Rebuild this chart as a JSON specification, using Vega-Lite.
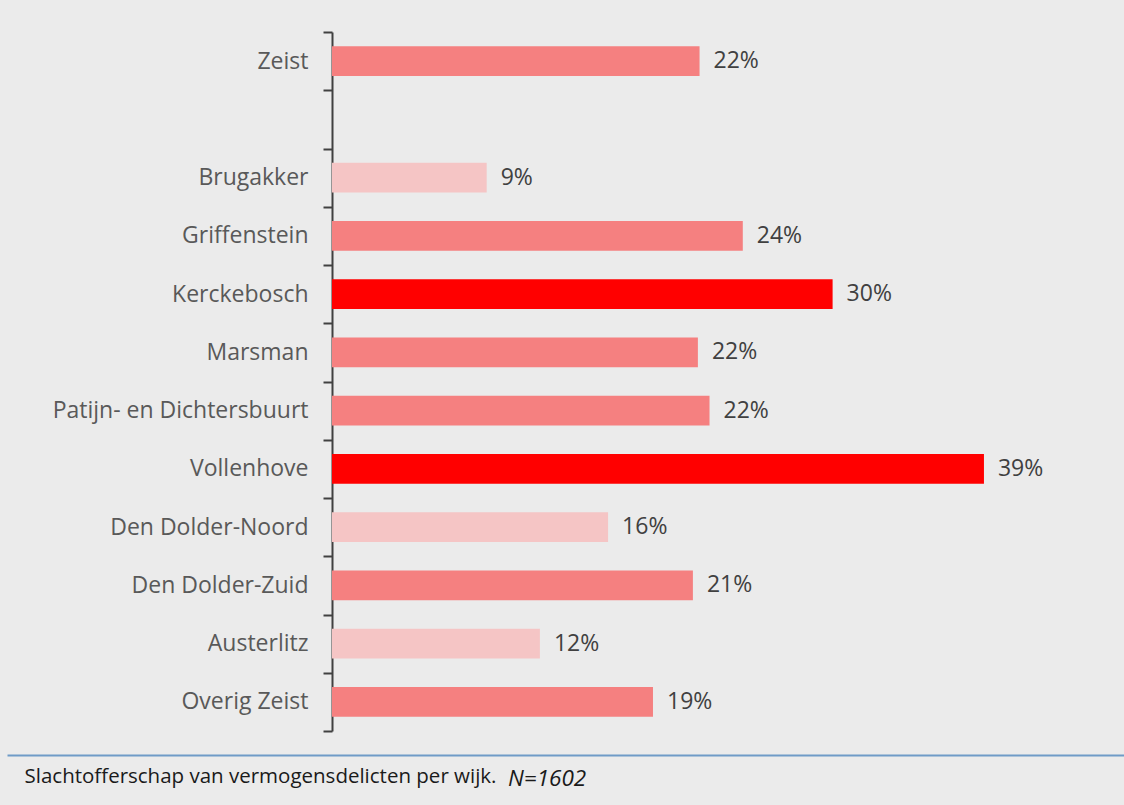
{
  "$schema": "https://vega.github.io/schema/vega-lite/v6.json",
  "autosize": {"type": "none"},
  "width": 1117,
  "height": 699,
  "padding": {"left": 7, "top": 32, "right": 0, "bottom": 74},
  "background": "#ebebeb",
  "config": {"view": {"stroke": null}, "font": "Open Sans"},
  "title": {
    "text": "N=1602",
    "orient": "bottom",
    "anchor": "start",
    "frame": "group",
    "font": "Open Sans",
    "fontStyle": "italic",
    "fontWeight": "normal",
    "fontSize": 22.5,
    "color": "#1a1a1a",
    "dx": 501,
    "offset": 0,
    "dy": -19
  },
  "data": {
    "values": [
      {"wijk": "Zeist", "waarde": 22.1, "label": "22%", "groep": "midden"},
      {"wijk": "Brugakker", "waarde": 9.3, "label": "9%", "groep": "laag"},
      {"wijk": "Griffenstein\u2005", "waarde": 24.7, "label": "24%", "groep": "midden"},
      {"wijk": "Kerckebosch", "waarde": 30.1, "label": "30%", "groep": "hoog"},
      {"wijk": "Marsman", "waarde": 22.0, "label": "22%", "groep": "midden"},
      {"wijk": "Patijn- en Dichtersbuurt", "waarde": 22.7, "label": "22%", "groep": "midden"},
      {"wijk": "Vollenhove", "waarde": 39.2, "label": "39%", "groep": "hoog"},
      {"wijk": "Den Dolder-Noord", "waarde": 16.6, "label": "16%", "groep": "laag"},
      {"wijk": "Den Dolder-Zuid", "waarde": 21.7, "label": "21%", "groep": "midden"},
      {"wijk": "Austerlitz", "waarde": 12.5, "label": "12%", "groep": "laag"},
      {"wijk": "Overig Zeist", "waarde": 19.3, "label": "19%", "groep": "midden"}
    ]
  },
  "encoding": {
    "y": {
      "field": "wijk",
      "type": "nominal",
      "sort": null,
      "scale": {
        "domain": ["Zeist", " ", "Brugakker", "Griffenstein\u2005", "Kerckebosch", "Marsman", "Patijn- en Dichtersbuurt", "Vollenhove", "Den Dolder-Noord", "Den Dolder-Zuid", "Austerlitz", "Overig Zeist"],
        "paddingInner": 0,
        "paddingOuter": 0
      },
      "axis": {
        "title": null,
        "offset": -325,
        "tickBand": "extent",
        "domainColor": "#404040",
        "domainWidth": 2,
        "tickColor": "#404040",
        "tickWidth": 2,
        "tickSize": 9,
        "labelPadding": 15,
        "labelFont": "Open Sans",
        "labelFontSize": 23,
        "labelColor": "#595959",
        "labelLimit": 400
      }
    },
    "x": {
      "field": "waarde",
      "type": "quantitative",
      "scale": {"domain": [-19.54, 47.62], "nice": false, "zero": false},
      "axis": {
        "orient": "bottom",
        "offset": 24,
        "domainColor": "#6f9bc7",
        "domainWidth": 2,
        "ticks": false,
        "labels": false,
        "grid": false,
        "title": "Slachtofferschap van vermogensdelicten per wijk.",
        "titleFont": "Open Sans",
        "titleFontSize": 20.5,
        "titleFontWeight": "normal",
        "titleColor": "#1a1a1a",
        "titleAnchor": "start",
        "titleAlign": "left",
        "titleBaseline": "top",
        "titleX": 17,
        "titleY": 11
      }
    }
  },
  "layer": [
    {
      "mark": {"type": "bar", "height": {"band": 0.515}},
      "encoding": {
        "x2": {"datum": 0},
        "color": {
          "field": "groep",
          "type": "nominal",
          "legend": null,
          "scale": {"domain": ["hoog", "midden", "laag"], "range": ["#ff0000", "#f58080", "#f5c5c5"]}
        }
      }
    },
    {
      "mark": {"type": "text", "align": "left", "baseline": "middle", "dx": 14, "fontSize": 23, "font": "Open Sans", "color": "#404040"},
      "encoding": {"text": {"field": "label"}}
    }
  ]
}
